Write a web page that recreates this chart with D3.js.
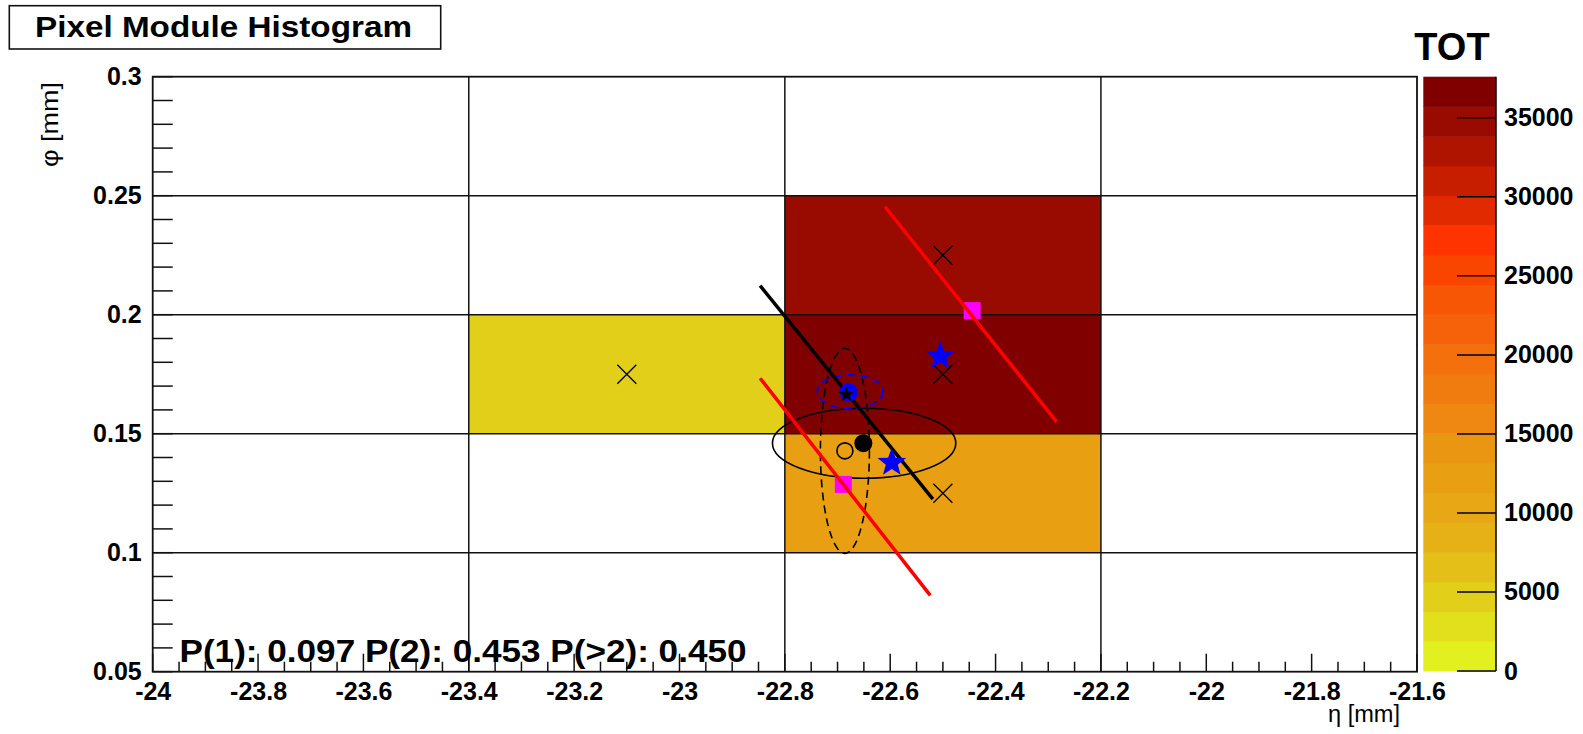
<!DOCTYPE html>
<html>
<head>
<meta charset="utf-8">
<script src="https://cdn.jsdelivr.net/npm/d3@7"></script>
<style>
  html, body { margin: 0; padding: 0; background: #fff; }
  svg { display: block; }
  text { font-family: "Liberation Sans", Arial, Helvetica, sans-serif; }
</style>
</head>
<body>
<svg id="chart" width="1583" height="734"></svg>
<script>
// ---- histogram cells (pixel bins) ----
const cellEta = [-23.1, -22.5, -22.5, -22.5];
const cellPhi = [0.175, 0.225, 0.175, 0.125];
const cellTot = [4800, 34800, 37600, 12500];
const binWidthEta = 0.6;
const binHeightPhi = 0.05;

// ---- cluster overlays ----
const crossEta = [-23.1, -22.5, -22.5, -22.5];
const crossPhi = [0.175, 0.225, 0.175, 0.125];

const starEta = [-22.505, -22.597];
const starPhi = [0.1826, 0.1378];

const squareEta = [-22.4445, -22.689];
const squarePhi = [0.2017, 0.1287];

// red track segments [eta0, phi0, eta1, phi1]
const redLines = [
  [-22.610, 0.2454, -22.284, 0.1550],
  [-22.847, 0.1733, -22.524, 0.0821]
];
// black fitted track
const blackLine = [-22.847, 0.2122, -22.519, 0.1225];

// ellipses: [etaCentre, phiCentre, etaRadius, phiRadius]
const solidEllipse = [-22.6495, 0.1460, 0.174, 0.0147];
const dashedEllipse = [-22.686, 0.1428, 0.0465, 0.0431];
const blueEllipse = [-22.676, 0.1676, 0.0627, 0.00714];

const blueDot = [-22.679, 0.1674];
const blackStar = [-22.683, 0.1665];
const openDot = [-22.686, 0.1428];
const filledDot = [-22.651, 0.1460];

// ---- axes ----
const etaTicks = [-24, -23.8, -23.6, -23.4, -23.2, -23, -22.8, -22.6, -22.4, -22.2, -22, -21.8, -21.6];
const phiTicks = [0.05, 0.1, 0.15, 0.2, 0.25, 0.3];
const etaGrid = [-23.4, -22.8, -22.2];
const phiGrid = [0.1, 0.15, 0.2, 0.25];

// ---- colour scale (TOT) ----
const zMax = 37600;
const totTicks = [0, 5000, 10000, 15000, 20000, 25000, 30000, 35000];
const palette = [
  "#e1f01e", "#e2df1c", "#e2cf1a", "#e4bf18", "#e6b116",
  "#e8a714", "#e99f12", "#eb9612", "#ee8812", "#f07c10",
  "#f3700c", "#f5620a", "#f75605", "#fa4500", "#ff3300",
  "#e22a00", "#c81e00", "#ae1400", "#990a00", "#800000"
];

(function draw() {
  const svg = d3.select("#chart");
  const pLeft = 152.7, pRight = 1417, pTop = 76.7, pBottom = 671.7;
  const tickFont = 25;

  const x = d3.scaleLinear().domain([-24, -21.6]).range([pLeft, pRight]);
  const y = d3.scaleLinear().domain([0.05, 0.3]).range([pBottom, pTop]);
  const color = d3.scaleQuantize().domain([0, zMax]).range(palette);

  // histogram cells
  svg.append("g").selectAll("rect")
    .data(cellTot)
    .join("rect")
    .attr("x", (d, i) => x(cellEta[i] - binWidthEta / 2))
    .attr("y", (d, i) => y(cellPhi[i] + binHeightPhi / 2))
    .attr("width", (d, i) => x(cellEta[i] + binWidthEta / 2) - x(cellEta[i] - binWidthEta / 2))
    .attr("height", (d, i) => y(cellPhi[i] - binHeightPhi / 2) - y(cellPhi[i] + binHeightPhi / 2))
    .attr("fill", d => color(d));

  // grid lines at bin edges
  const grid = svg.append("g").attr("stroke", "#111").attr("stroke-width", 1.5);
  grid.selectAll("line.v").data(etaGrid).join("line").attr("class", "v")
    .attr("x1", d => x(d)).attr("x2", d => x(d)).attr("y1", pTop).attr("y2", pBottom);
  grid.selectAll("line.h").data(phiGrid).join("line").attr("class", "h")
    .attr("x1", pLeft).attr("x2", pRight).attr("y1", d => y(d)).attr("y2", d => y(d));

  // minor ticks
  const minorEta = d3.range(0, 49).map(i => -24 + i * 0.05);
  const minorPhi = d3.range(0, 26).map(i => 0.05 + i * 0.01);
  const isMajorEta = v => Math.abs(v * 5 - Math.round(v * 5)) < 1e-6;
  grid.selectAll("line.tx").data(minorEta).join("line").attr("class", "tx")
    .attr("x1", d => x(d)).attr("x2", d => x(d))
    .attr("y1", pBottom).attr("y2", d => pBottom - (isMajorEta(d) ? 18 : 10));
  grid.selectAll("line.ty").data(minorPhi).join("line").attr("class", "ty")
    .attr("x1", pLeft).attr("x2", pLeft + 20)
    .attr("y1", d => y(d)).attr("y2", d => y(d));

  // frame
  svg.append("rect")
    .attr("x", pLeft).attr("y", pTop)
    .attr("width", pRight - pLeft).attr("height", pBottom - pTop)
    .attr("fill", "none").attr("stroke", "#111").attr("stroke-width", 1.8);

  // axis labels
  const fmt = d => String(+d.toFixed(2));
  const xAxis = svg.append("g")
    .attr("transform", `translate(0,${pBottom})`)
    .call(d3.axisBottom(x).tickValues(etaTicks).tickSize(0).tickPadding(11).tickFormat(fmt));
  xAxis.select(".domain").remove();
  xAxis.selectAll("text")
    .attr("font-size", tickFont).attr("font-weight", "bold").attr("fill", "#000")
    .attr("font-family", "Liberation Sans, Arial, sans-serif");

  const yAxis = svg.append("g")
    .attr("transform", `translate(${pLeft},0)`)
    .call(d3.axisLeft(y).tickValues(phiTicks).tickSize(0).tickPadding(11).tickFormat(fmt));
  yAxis.select(".domain").remove();
  yAxis.selectAll("text")
    .attr("font-size", tickFont).attr("font-weight", "bold").attr("fill", "#000")
    .attr("font-family", "Liberation Sans, Arial, sans-serif");

  svg.append("text")
    .attr("x", 1400).attr("y", 722)
    .attr("text-anchor", "end").attr("font-size", 23)
    .attr("textLength", 72).attr("lengthAdjust", "spacingAndGlyphs")
    .text("η [mm]");
  svg.append("text")
    .attr("transform", "translate(58,167) rotate(-90)")
    .attr("font-size", 24)
    .attr("textLength", 85).attr("lengthAdjust", "spacingAndGlyphs")
    .text("φ [mm]");

  // overlays: ellipses
  const ell = (g, e) => g.append("ellipse")
    .attr("cx", x(e[0])).attr("cy", y(e[1]))
    .attr("rx", x(e[0] + e[2]) - x(e[0]))
    .attr("ry", y(e[1] - e[3]) - y(e[1]))
    .attr("fill", "none");
  const ov = svg.append("g");
  ell(ov, solidEllipse).attr("stroke", "#000").attr("stroke-width", 1.6);
  ell(ov, dashedEllipse).attr("stroke", "#000").attr("stroke-width", 1.6).attr("stroke-dasharray", "8,5");
  ell(ov, blueEllipse).attr("stroke", "#0000ff").attr("stroke-width", 1.6).attr("stroke-dasharray", "8,5");

  // magenta squares
  ov.selectAll("rect.sq").data(squareEta).join("rect").attr("class", "sq")
    .attr("x", d => x(d) - 8.5).attr("y", (d, i) => y(squarePhi[i]) - 8.5)
    .attr("width", 17).attr("height", 17).attr("fill", "#ff00ff");

  // tracks
  ov.selectAll("line.red").data(redLines).join("line").attr("class", "red")
    .attr("x1", d => x(d[0])).attr("y1", d => y(d[1]))
    .attr("x2", d => x(d[2])).attr("y2", d => y(d[3]))
    .attr("stroke", "#ff0000").attr("stroke-width", 3.5);
  ov.append("line")
    .attr("x1", x(blackLine[0])).attr("y1", y(blackLine[1]))
    .attr("x2", x(blackLine[2])).attr("y2", y(blackLine[3]))
    .attr("stroke", "#000").attr("stroke-width", 3.5);

  // crosses at pixel centres
  const cr = 9.5;
  ov.selectAll("path.cross").data(crossEta).join("path").attr("class", "cross")
    .attr("d", (d, i) => {
      const cx = x(d), cy = y(crossPhi[i]);
      return `M${cx - cr},${cy - cr}L${cx + cr},${cy + cr}M${cx - cr},${cy + cr}L${cx + cr},${cy - cr}`;
    })
    .attr("stroke", "#000").attr("stroke-width", 1.3).attr("fill", "none");

  // star path helper
  function starPath(cx, cy, R) {
    const r = R * 0.42;
    const pts = [];
    for (let k = 0; k < 10; k++) {
      const a = -Math.PI / 2 + k * Math.PI / 5;
      const rr = k % 2 === 0 ? R : r;
      pts.push([cx + rr * Math.cos(a), cy + rr * Math.sin(a)]);
    }
    return "M" + pts.map(p => p.join(",")).join("L") + "Z";
  }

  // blue dot with black star
  ov.append("circle")
    .attr("cx", x(blueDot[0])).attr("cy", y(blueDot[1])).attr("r", 9)
    .attr("fill", "#0000ff");
  ov.append("path")
    .attr("d", starPath(x(blackStar[0]), y(blackStar[1]), 8))
    .attr("fill", "#000");

  // open and filled centroid dots
  ov.append("circle")
    .attr("cx", x(openDot[0])).attr("cy", y(openDot[1])).attr("r", 8)
    .attr("fill", "none").attr("stroke", "#000").attr("stroke-width", 1.6);
  ov.append("circle")
    .attr("cx", x(filledDot[0])).attr("cy", y(filledDot[1])).attr("r", 9)
    .attr("fill", "#000");

  // blue stars
  ov.selectAll("path.star").data(starEta).join("path").attr("class", "star")
    .attr("d", (d, i) => starPath(x(d), y(starPhi[i]), 15))
    .attr("fill", "#0000ff");

  // probability text
  svg.append("text")
    .attr("x", 179.5).attr("y", 661.5)
    .attr("font-size", 31).attr("font-weight", "bold")
    .attr("textLength", 567).attr("lengthAdjust", "spacingAndGlyphs")
    .text("P(1): 0.097 P(2): 0.453 P(>2): 0.450");

  // title box
  svg.append("rect")
    .attr("x", 9.3).attr("y", 5.7).attr("width", 431.4).attr("height", 43.3)
    .attr("fill", "#fff").attr("stroke", "#111").attr("stroke-width", 1.6);
  svg.append("text")
    .attr("x", 35).attr("y", 37)
    .attr("font-size", 29).attr("font-weight", "bold")
    .attr("textLength", 377).attr("lengthAdjust", "spacingAndGlyphs")
    .text("Pixel Module Histogram");

  // colour bar
  const cbLeft = 1423.3, cbRight = 1496, cbTop = 76.7, cbBottom = 671;
  const z = d3.scaleLinear().domain([0, zMax]).range([cbBottom, cbTop]);
  const bandStep = zMax / palette.length;
  svg.append("g").selectAll("rect")
    .data(palette)
    .join("rect")
    .attr("x", cbLeft)
    .attr("y", (d, i) => z((i + 1) * bandStep))
    .attr("width", cbRight - cbLeft)
    .attr("height", (d, i) => z(i * bandStep) - z((i + 1) * bandStep) + 0.5)
    .attr("fill", d => d);

  const zAxis = svg.append("g")
    .attr("transform", `translate(${cbRight},0)`)
    .call(d3.axisRight(z).tickValues(totTicks).tickSize(0).tickPadding(8).tickFormat(d => String(d)));
  zAxis.select(".domain").remove();
  zAxis.selectAll("text")
    .attr("font-size", tickFont).attr("font-weight", "bold").attr("fill", "#000")
    .attr("font-family", "Liberation Sans, Arial, sans-serif");
  const zt = svg.append("g").attr("stroke", "#000").attr("stroke-width", 1.5);
  zt.selectAll("line").data(totTicks).join("line")
    .attr("x1", cbRight - 39).attr("x2", cbRight)
    .attr("y1", d => z(d)).attr("y2", d => z(d));
  zt.append("line")
    .attr("x1", cbRight).attr("x2", cbRight).attr("y1", cbTop).attr("y2", cbBottom);

  svg.append("text")
    .attr("x", 1452).attr("y", 60)
    .attr("text-anchor", "middle").attr("font-size", 38).attr("font-weight", "bold")
    .text("TOT");
})();
</script>
</body>
</html>
